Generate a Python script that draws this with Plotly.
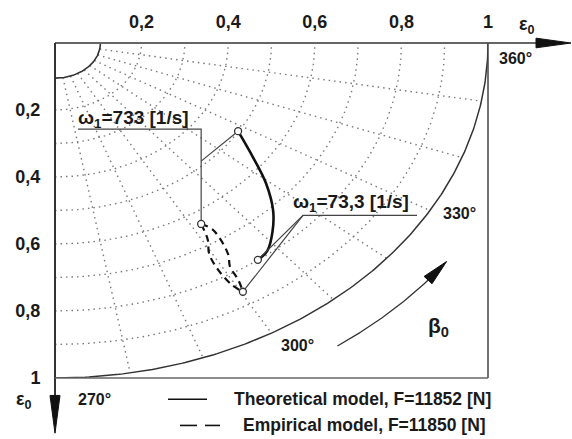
import numpy as np
import plotly.graph_objects as go

# Journal centre trajectories: relative eccentricity eps0 and attitude angle beta0 [deg]
theo_eps = [0.498, 0.570, 0.643, 0.710, 0.755, 0.791, 0.799]
theo_beta = [328.1, 323.3, 319.3, 315.2, 311.7, 308.3, 305.9]

emp_outer_eps = [0.637, 0.667, 0.746, 0.780, 0.825, 0.860]
emp_outer_beta = [302.0, 303.2, 302.4, 301.2, 300.9, 300.3]
emp_inner_eps = [0.637, 0.685, 0.723, 0.774, 0.830, 0.860]
emp_inner_beta = [302.0, 301.0, 299.5, 299.1, 299.5, 300.3]

# Axis ticks and polar grid
eps_ticks = [0.2, 0.4, 0.6, 0.8, 1.0]
eps_tick_text = ["0,2", "0,4", "0,6", "0,8", "1"]
grid_eps = [0.2, 0.3, 0.4, 0.5, 0.6, 0.7, 0.8, 0.9]
grid_beta = [280, 290, 300, 310, 320, 330, 340, 350]
inner_eps = 0.105
beta_arrow_eps = 1.115

speed_labels = ["ω<sub>1</sub>=733 [1/s]", "ω<sub>1</sub>=73,3 [1/s]"]
legend_labels = ["Theoretical model, F=11852 [N]", "Empirical model, F=11850 [N]"]

W, H = 572, 439
ML, MR, MT, MB = 55, 84, 32, 61
PW, PH = W - ML - MR, H - MT - MB

FONT = "Liberation Sans, Arial, sans-serif"
INK = "#1a1a1a"


def polar_xy(eps, beta):
    e = np.asarray(eps, float)
    b = np.radians(np.asarray(beta, float))
    return e * np.cos(b), e * np.sin(b)


def px(x):
    return (x - ML) / PW


def py(y):
    return (H - MB - y) / PH


fig = go.Figure()

# dotted grid: concentric arcs and radial rays
arc_b = np.linspace(270, 360, 181)
for r in grid_eps:
    x, y = polar_xy(np.full_like(arc_b, r), arc_b)
    fig.add_trace(go.Scatter(x=x, y=y, mode="lines", hoverinfo="skip", showlegend=False,
                             line=dict(color="#7a7a7a", width=1.4, dash="1.5px,4px")))
for b in grid_beta:
    x, y = polar_xy([inner_eps, 1.0], [b, b])
    fig.add_trace(go.Scatter(x=x, y=y, mode="lines", hoverinfo="skip", showlegend=False,
                             line=dict(color="#7a7a7a", width=1.4, dash="1.5px,4px")))

# bearing clearance boundary and inner circle
for r, w in [(1.0, 1.5), (inner_eps, 1.6)]:
    x, y = polar_xy(np.full_like(arc_b, r), arc_b)
    fig.add_trace(go.Scatter(x=x, y=y, mode="lines", hoverinfo="skip", showlegend=False,
                             line=dict(color="#333333", width=w)))

# direction of rotation arrow for beta0
ab = np.linspace(305.8, 320.8, 60)
x, y = polar_xy(np.full_like(ab, beta_arrow_eps), ab)
fig.add_trace(go.Scatter(x=x, y=y, mode="lines", hoverinfo="skip", showlegend=False,
                         line=dict(color="#333333", width=1.3)))
tx, ty = polar_xy([beta_arrow_eps], [324.2])
bx, by = polar_xy([beta_arrow_eps], [320.6])
dxp, dyp = (tx[0] - bx[0]) * PW, (ty[0] - by[0]) * PH
n = np.hypot(dxp, dyp)
nxp, nyp = -dyp / n * 5.5, dxp / n * 5.5
fig.add_trace(go.Scatter(
    x=[tx[0], bx[0] + nxp / PW, bx[0] - nxp / PW, tx[0]],
    y=[ty[0], by[0] + nyp / PH, by[0] - nyp / PH, ty[0]],
    mode="lines", fill="toself", fillcolor="#111111", hoverinfo="skip", showlegend=False,
    line=dict(color="#111111", width=1)))

# model trajectories
x, y = polar_xy(theo_eps, theo_beta)
fig.add_trace(go.Scatter(x=x, y=y, mode="lines", name=legend_labels[0], showlegend=False,
                         line=dict(color="#111111", width=2.6, shape="spline")))
for e, b in [(emp_outer_eps, emp_outer_beta), (emp_inner_eps, emp_inner_beta)]:
    x, y = polar_xy(e, b)
    fig.add_trace(go.Scatter(x=x, y=y, mode="lines", name=legend_labels[1], showlegend=False,
                             line=dict(color="#111111", width=2.2, dash="7px,5px", shape="spline")))

# end points of each trajectory
pA = polar_xy([theo_eps[0]], [theo_beta[0]])
pB = polar_xy([theo_eps[-1]], [theo_beta[-1]])
pC = polar_xy([emp_outer_eps[0]], [emp_outer_beta[0]])
pD = polar_xy([emp_outer_eps[-1]], [emp_outer_beta[-1]])
pts = [pA, pB, pC, pD]

# leader lines from the speed labels
u1x0, u1y = px(78), py(121) - 1
brk_y = py(154) - 1
u2x0, u2x1, u2y = px(303), px(417), py(210) - 1
lead = dict(mode="lines", hoverinfo="skip", showlegend=False,
            line=dict(color="#444444", width=1.2))
fig.add_trace(go.Scatter(x=[u1x0, pC[0][0], pC[0][0]], y=[u1y, u1y, pC[1][0]], **lead))
fig.add_trace(go.Scatter(x=[pC[0][0], pA[0][0]], y=[brk_y, pA[1][0]], **lead))
fig.add_trace(go.Scatter(x=[u2x1, u2x0, pB[0][0]], y=[u2y, u2y, pB[1][0]], **lead))
fig.add_trace(go.Scatter(x=[u2x0, pD[0][0]], y=[u2y, pD[1][0]], **lead))

fig.add_trace(go.Scatter(
    x=[p[0][0] for p in pts], y=[p[1][0] for p in pts], mode="markers",
    hoverinfo="skip", showlegend=False, cliponaxis=False,
    marker=dict(symbol="circle", size=7, color="white", line=dict(color="#333333", width=1.3))))

shapes = [
    # axes, frame and arrowheads
    dict(type="line", xref="paper", yref="paper", x0=0, y0=1, x1=px(540), y1=1,
         line=dict(color="#666666", width=2)),
    dict(type="line", xref="paper", yref="paper", x0=0, y0=1, x1=0, y1=py(398),
         line=dict(color="#333333", width=2)),
    dict(type="line", xref="paper", yref="paper", x0=1, y0=1, x1=1, y1=0,
         line=dict(color="#444444", width=1.5)),
    dict(type="line", xref="paper", yref="paper", x0=0, y0=0, x1=1, y1=0,
         line=dict(color="#666666", width=1.6)),
    dict(type="path", xref="paper", yref="paper",
         path=f"M{px(536)},{py(27)} L{px(571)},{py(32)} L{px(536)},{py(37)} Z",
         fillcolor="#111111", line=dict(color="#111111", width=1)),
    dict(type="path", xref="paper", yref="paper",
         path=f"M{px(50)},{py(396)} L{px(55)},{py(435)} L{px(60)},{py(396)} Z",
         fillcolor="#111111", line=dict(color="#111111", width=1)),
    # legend samples
    dict(type="line", xref="paper", yref="paper", x0=px(168), y0=py(400), x1=px(207), y1=py(400),
         line=dict(color="#111111", width=1.6)),
    dict(type="line", xref="paper", yref="paper", x0=px(180), y0=py(427), x1=px(197), y1=py(427),
         line=dict(color="#111111", width=1.6)),
    dict(type="line", xref="paper", yref="paper", x0=px(205), y0=py(427), x1=px(220), y1=py(427),
         line=dict(color="#111111", width=1.6)),
]


def note(text, x, y, size=16, xanchor="center"):
    return dict(text=f"<b>{text}</b>", x=px(x), y=py(y), xref="paper", yref="paper",
                xanchor=xanchor, yanchor="middle", showarrow=False,
                font=dict(family=FONT, size=size, color=INK))


annotations = [
    note("ε<sub>0</sub>", 527, 14, 18),
    note("ε<sub>0</sub>", 24, 401, 18),
    note("360°", 515, 48, 16),
    note("330°", 459, 208, 16),
    note("300°", 297, 344, 16),
    note("270°", 94, 400, 16),
    note("β<sub>0</sub>", 438, 325, 21),
    note(speed_labels[0], 76, 110, 19, "left"),
    note(speed_labels[1], 291, 197, 19, "left"),
    note(legend_labels[0], 232, 400, 17.5, "left"),
    note(legend_labels[1], 241, 427, 17.5, "left"),
]

fig.update_layout(
    width=W, height=H, autosize=False,
    margin=dict(l=ML, r=MR, t=MT, b=MB, pad=0),
    paper_bgcolor="white", plot_bgcolor="white",
    shapes=shapes, annotations=annotations,
    xaxis=dict(range=[0, 1], side="top", showgrid=False, zeroline=False, showline=False,
               tickvals=eps_ticks, ticktext=[f"<b>{t}</b>" for t in eps_tick_text],
               ticks="outside", ticklen=7, tickcolor="rgba(0,0,0,0)",
               tickfont=dict(family=FONT, size=18, color=INK), fixedrange=True),
    yaxis=dict(range=[-1, 0], showgrid=False, zeroline=False, showline=False,
               tickvals=[-v for v in eps_ticks], ticktext=[f"<b>{t}</b>" for t in eps_tick_text],
               ticks="outside", ticklen=10, tickcolor="rgba(0,0,0,0)",
               tickfont=dict(family=FONT, size=18, color=INK), fixedrange=True),
    showlegend=False,
)

fig.write_html("out.html")
